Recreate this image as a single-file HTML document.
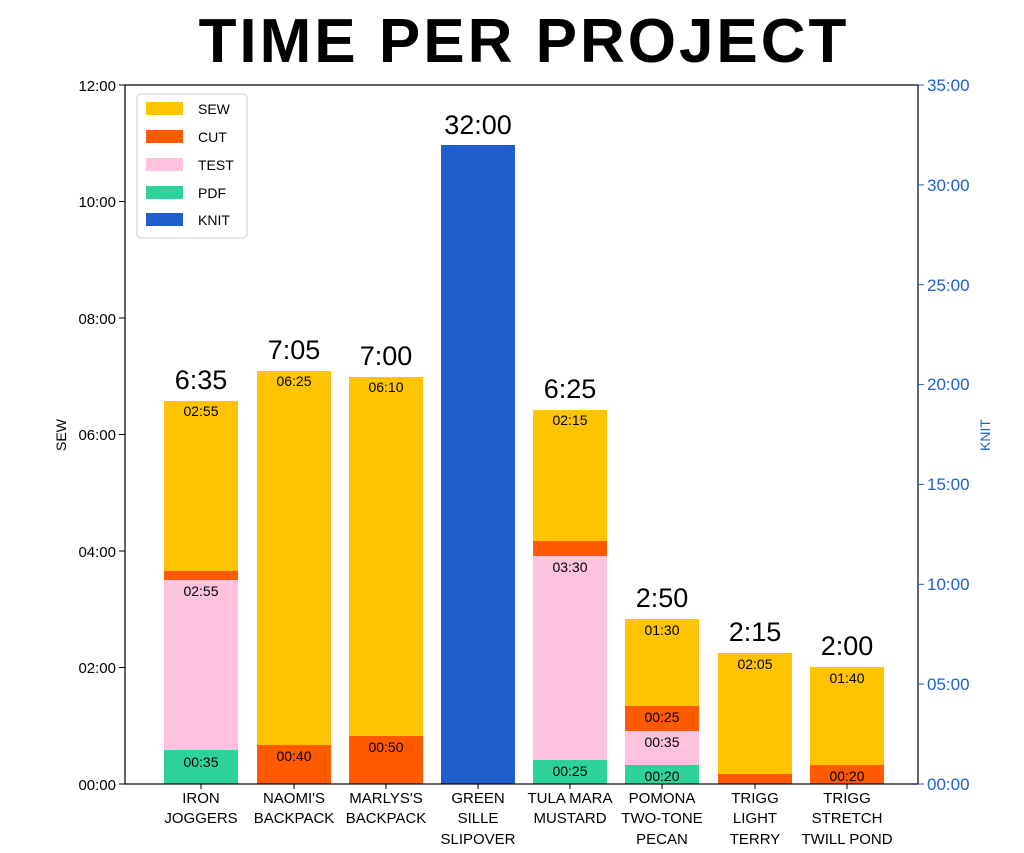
<!DOCTYPE html>
<html><head><meta charset="utf-8"><style>
body{margin:0;background:#fff;}
svg{display:block;font-family:"Liberation Sans",sans-serif;}
</style></head><body>
<svg width="1024" height="853" viewBox="0 0 1024 853" xmlns="http://www.w3.org/2000/svg">
<rect width="1024" height="853" fill="#fff"/>
<text x="524" y="62" font-size="62" font-weight="bold" text-anchor="middle" letter-spacing="3">TIME PER PROJECT</text>
<g>
<rect x="164" y="750" width="74" height="34" fill="#2ed39a"/>
<rect x="164" y="580" width="74" height="170" fill="#ffc2df"/>
<rect x="164" y="571" width="74" height="9" fill="#ff5a00"/>
<rect x="164" y="401" width="74" height="170" fill="#ffc400"/>
<rect x="257" y="745" width="74" height="39" fill="#ff5a00"/>
<rect x="257" y="371" width="74" height="374" fill="#ffc400"/>
<rect x="349" y="736" width="74" height="48" fill="#ff5a00"/>
<rect x="349" y="377" width="74" height="359" fill="#ffc400"/>
<rect x="441" y="145" width="74" height="639" fill="#1f5fcc"/>
<rect x="533" y="760" width="74" height="24" fill="#2ed39a"/>
<rect x="533" y="556" width="74" height="204" fill="#ffc2df"/>
<rect x="533" y="541" width="74" height="15" fill="#ff5a00"/>
<rect x="533" y="410" width="74" height="131" fill="#ffc400"/>
<rect x="625" y="765" width="74" height="19" fill="#2ed39a"/>
<rect x="625" y="731" width="74" height="34" fill="#ffc2df"/>
<rect x="625" y="706" width="74" height="25" fill="#ff5a00"/>
<rect x="625" y="619" width="74" height="87" fill="#ffc400"/>
<rect x="718" y="774" width="74" height="10" fill="#ff5a00"/>
<rect x="718" y="653" width="74" height="121" fill="#ffc400"/>
<rect x="810" y="765" width="74" height="19" fill="#ff5a00"/>
<rect x="810" y="667" width="74" height="98" fill="#ffc400"/>
</g>
<g font-size="14" text-anchor="middle" fill="#000">
<text x="201" y="416">02:55</text><text x="201" y="596">02:55</text><text x="201" y="767">00:35</text>
<text x="294" y="386">06:25</text><text x="294" y="761">00:40</text>
<text x="386" y="392">06:10</text><text x="386" y="752">00:50</text>
<text x="570" y="425">02:15</text><text x="570" y="572">03:30</text><text x="570" y="776">00:25</text>
<text x="662" y="635">01:30</text><text x="662" y="722">00:25</text><text x="662" y="747">00:35</text><text x="662" y="781">00:20</text>
<text x="755" y="669">02:05</text>
<text x="847" y="683">01:40</text><text x="847" y="781">00:20</text>
</g>
<g font-size="27" text-anchor="middle">
<text x="201" y="389">6:35</text><text x="294" y="359">7:05</text><text x="386" y="365">7:00</text>
<text x="478" y="134">32:00</text><text x="570" y="398">6:25</text><text x="662" y="607">2:50</text>
<text x="755" y="641">2:15</text><text x="847" y="655">2:00</text>
</g>
<rect x="125" y="85" width="793" height="699" fill="none" stroke="#000" stroke-width="1.2"/>
<g font-size="15" text-anchor="end">
<line x1="119" y1="784" x2="125" y2="784" stroke="#000"/><text x="116" y="790">00:00</text>
<line x1="119" y1="667.5" x2="125" y2="667.5" stroke="#000"/><text x="116" y="673">02:00</text>
<line x1="119" y1="551" x2="125" y2="551" stroke="#000"/><text x="116" y="557">04:00</text>
<line x1="119" y1="434.5" x2="125" y2="434.5" stroke="#000"/><text x="116" y="440">06:00</text>
<line x1="119" y1="318" x2="125" y2="318" stroke="#000"/><text x="116" y="324">08:00</text>
<line x1="119" y1="201.5" x2="125" y2="201.5" stroke="#000"/><text x="116" y="207">10:00</text>
<line x1="119" y1="85" x2="125" y2="85" stroke="#000"/><text x="116" y="91">12:00</text>
</g>
<text transform="translate(66,435) rotate(-90)" font-size="14" text-anchor="middle">SEW</text>
<g font-size="17" fill="#1f5fcc">
<line x1="918" y1="784" x2="924" y2="784" stroke="#1f5fcc"/><text x="927" y="790">00:00</text>
<line x1="918" y1="684.1" x2="924" y2="684.1" stroke="#1f5fcc"/><text x="927" y="690">05:00</text>
<line x1="918" y1="584.3" x2="924" y2="584.3" stroke="#1f5fcc"/><text x="927" y="590">10:00</text>
<line x1="918" y1="484.4" x2="924" y2="484.4" stroke="#1f5fcc"/><text x="927" y="490">15:00</text>
<line x1="918" y1="384.6" x2="924" y2="384.6" stroke="#1f5fcc"/><text x="927" y="390">20:00</text>
<line x1="918" y1="284.7" x2="924" y2="284.7" stroke="#1f5fcc"/><text x="927" y="291">25:00</text>
<line x1="918" y1="184.9" x2="924" y2="184.9" stroke="#1f5fcc"/><text x="927" y="191">30:00</text>
<line x1="918" y1="85" x2="924" y2="85" stroke="#1f5fcc"/><text x="927" y="91">35:00</text>
</g>
<text transform="translate(990,435) rotate(-90)" font-size="14" text-anchor="middle" fill="#1f5fcc">KNIT</text>
<g font-size="15" text-anchor="middle">
<text x="201" y="803">IRON</text><text x="201" y="823">JOGGERS</text>
<text x="294" y="803">NAOMI'S</text><text x="294" y="823">BACKPACK</text>
<text x="386" y="803">MARLYS'S</text><text x="386" y="823">BACKPACK</text>
<text x="478" y="803">GREEN</text><text x="478" y="823">SILLE</text><text x="478" y="844">SLIPOVER</text>
<text x="570" y="803">TULA MARA</text><text x="570" y="823">MUSTARD</text>
<text x="662" y="803">POMONA</text><text x="662" y="823">TWO-TONE</text><text x="662" y="844">PECAN</text>
<text x="755" y="803">TRIGG</text><text x="755" y="823">LIGHT</text><text x="755" y="844">TERRY</text>
<text x="847" y="803">TRIGG</text><text x="847" y="823">STRETCH</text><text x="847" y="844">TWILL POND</text>
</g>
<g stroke="#000"><line x1="201" y1="784" x2="201" y2="789"/><line x1="294" y1="784" x2="294" y2="789"/><line x1="386" y1="784" x2="386" y2="789"/><line x1="478" y1="784" x2="478" y2="789"/><line x1="570" y1="784" x2="570" y2="789"/><line x1="662" y1="784" x2="662" y2="789"/><line x1="755" y1="784" x2="755" y2="789"/><line x1="847" y1="784" x2="847" y2="789"/></g>
<rect x="137" y="94" width="110" height="144" rx="4" fill="#fff" stroke="#ccc"/>
<g font-size="14">
<rect x="146" y="102" width="37" height="13" fill="#ffc400"/><text x="198" y="114">SEW</text>
<rect x="146" y="130" width="37" height="13" fill="#ff5a00"/><text x="198" y="142">CUT</text>
<rect x="146" y="158" width="37" height="13" fill="#ffc2df"/><text x="198" y="170">TEST</text>
<rect x="146" y="186" width="37" height="13" fill="#2ed39a"/><text x="198" y="198">PDF</text>
<rect x="146" y="213" width="37" height="13" fill="#1f5fcc"/><text x="198" y="225">KNIT</text>
</g>
</svg>
</body></html>
